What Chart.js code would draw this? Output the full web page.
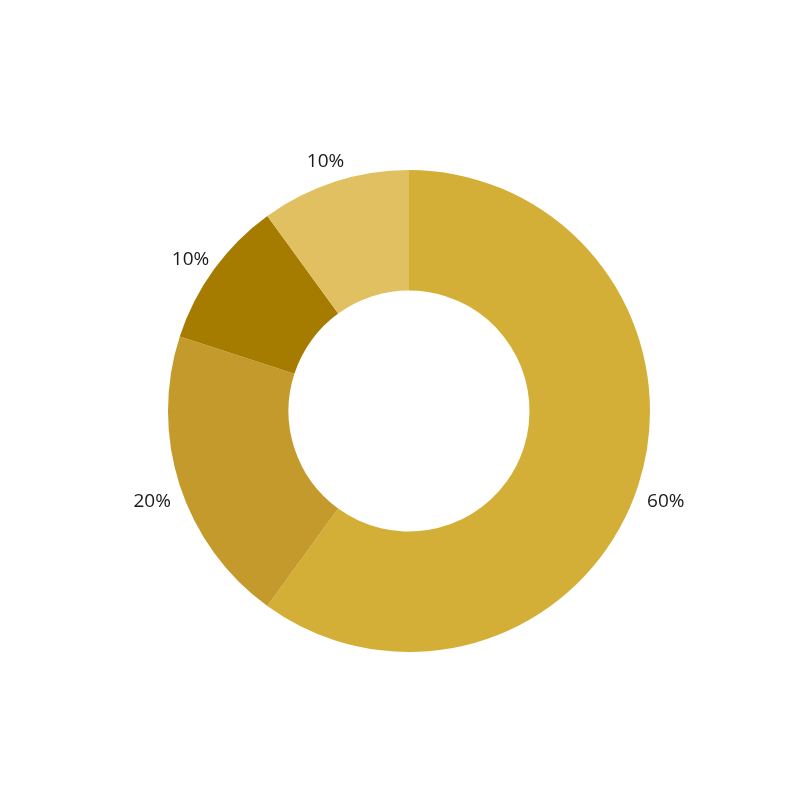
<!DOCTYPE html>
<html>
<head>
<meta charset="utf-8">
<script src="https://cdn.jsdelivr.net/npm/chart.js@4"></script>
<style>
  html, body { margin: 0; padding: 0; background: #ffffff; }
  #wrap { width: 796px; height: 796px; }
</style>
</head>
<body>
<div id="wrap"><canvas id="donut" width="796" height="796"></canvas></div>
<script>
// Chart data
const categories = ["A", "B", "C", "D"];
const values = [60, 20, 10, 10];
const sliceColors = ["#D4AF37", "#C49A2C", "#A67C00", "#E0C060"];

// Draw percentage labels outside each slice
const outsideLabels = {
  id: "outsideLabels",
  afterDatasetsDraw(chart) {
    const ctx = chart.ctx;
    const meta = chart.getDatasetMeta(0);
    const total = values.reduce((a, b) => a + b, 0);
    ctx.save();
    ctx.font = "19px 'Open Sans', 'DejaVu Sans', sans-serif";
    ctx.fillStyle = "#1a1a1a";
    ctx.textAlign = "center";
    ctx.textBaseline = "middle";
    meta.data.forEach((arc, i) => {
      const p = arc.getProps(["x", "y", "startAngle", "endAngle", "outerRadius"], true);
      const mid = (p.startAngle + p.endAngle) / 2;
      const r = p.outerRadius + 29;
      const pct = Math.round(values[i] / total * 100) + "%";
      ctx.fillText(pct, p.x + Math.cos(mid) * r, p.y + Math.sin(mid) * r + 7);
    });
    ctx.restore();
  }
};

new Chart(document.getElementById("donut"), {
  type: "doughnut",
  data: {
    labels: categories,
    datasets: [{
      data: values,
      backgroundColor: sliceColors,
      borderWidth: 0
    }]
  },
  options: {
    responsive: false,
    animation: false,
    cutout: "50%",
    layout: {
      padding: { left: 168, right: 146, top: 170, bottom: 144 }
    },
    plugins: {
      legend: { display: false },
      tooltip: { enabled: false }
    }
  },
  plugins: [outsideLabels]
});
</script>
</body>
</html>
